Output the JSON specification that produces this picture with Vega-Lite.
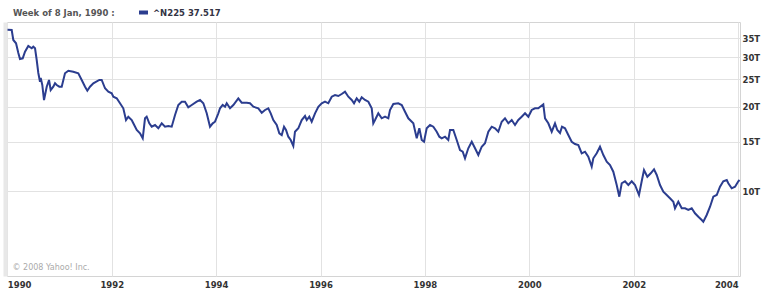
{
  "$schema": "https://vega.github.io/schema/vega-lite/v6.json",
  "autosize": {"type": "none"},
  "width": 733,
  "height": 254,
  "padding": {"left": 7, "top": 22, "right": 30, "bottom": 18},
  "background": "white",
  "config": {"view": {"stroke": "#d4d4d4"}},
  "resolve": {"axis": {"y": "independent"}},
  "layer": [
    {
      "data": {"values": [
        {"t": 1990.004, "v": 37517}, {"t": 1990.084, "v": 37464}, {"t": 1990.115, "v": 34520}, {"t": 1990.167, "v": 33600},
        {"t": 1990.211, "v": 31036}, {"t": 1990.243, "v": 29550}, {"t": 1990.295, "v": 29716}, {"t": 1990.339, "v": 31368},
        {"t": 1990.402, "v": 32864}, {"t": 1990.467, "v": 32252}, {"t": 1990.498, "v": 32676}, {"t": 1990.531, "v": 32252},
        {"t": 1990.563, "v": 29308}, {"t": 1990.594, "v": 26348}, {"t": 1990.626, "v": 24536}, {"t": 1990.640, "v": 25292},
        {"t": 1990.670, "v": 23880}, {"t": 1990.703, "v": 21120}, {"t": 1990.755, "v": 23552}, {"t": 1990.799, "v": 24880},
        {"t": 1990.831, "v": 22924}, {"t": 1990.881, "v": 23552}, {"t": 1990.914, "v": 24216}, {"t": 1990.946, "v": 23880},
        {"t": 1990.996, "v": 23552}, {"t": 1991.042, "v": 23552}, {"t": 1991.105, "v": 26280}, {"t": 1991.169, "v": 26848},
        {"t": 1991.264, "v": 26628}, {"t": 1991.360, "v": 26280}, {"t": 1991.425, "v": 24880}, {"t": 1991.489, "v": 23552},
        {"t": 1991.533, "v": 22792}, {"t": 1991.584, "v": 23552}, {"t": 1991.648, "v": 24216}, {"t": 1991.762, "v": 24880},
        {"t": 1991.808, "v": 24880}, {"t": 1991.872, "v": 23244}, {"t": 1991.935, "v": 22608}, {"t": 1992.000, "v": 22316},
        {"t": 1992.031, "v": 21700}, {"t": 1992.096, "v": 21420}, {"t": 1992.159, "v": 20560}, {"t": 1992.222, "v": 19736},
        {"t": 1992.274, "v": 17932}, {"t": 1992.318, "v": 18424}, {"t": 1992.383, "v": 17932}, {"t": 1992.414, "v": 17452},
        {"t": 1992.479, "v": 16524}, {"t": 1992.542, "v": 16080}, {"t": 1992.594, "v": 15436}, {"t": 1992.638, "v": 18184},
        {"t": 1992.670, "v": 18424}, {"t": 1992.720, "v": 17452}, {"t": 1992.766, "v": 16976}, {"t": 1992.830, "v": 17212},
        {"t": 1992.893, "v": 16756}, {"t": 1992.958, "v": 17452}, {"t": 1993.021, "v": 16976}, {"t": 1993.084, "v": 17072},
        {"t": 1993.149, "v": 16976}, {"t": 1993.213, "v": 18680}, {"t": 1993.276, "v": 20276}, {"t": 1993.341, "v": 20828},
        {"t": 1993.404, "v": 20828}, {"t": 1993.467, "v": 19896}, {"t": 1993.533, "v": 20276}, {"t": 1993.628, "v": 20828},
        {"t": 1993.692, "v": 21120}, {"t": 1993.755, "v": 20560}, {"t": 1993.820, "v": 18944}, {"t": 1993.883, "v": 16976},
        {"t": 1993.935, "v": 17452}, {"t": 1993.979, "v": 17684}, {"t": 1994.042, "v": 18944}, {"t": 1994.075, "v": 19736},
        {"t": 1994.126, "v": 20276}, {"t": 1994.171, "v": 19992}, {"t": 1994.203, "v": 20560}, {"t": 1994.266, "v": 19736},
        {"t": 1994.330, "v": 20276}, {"t": 1994.425, "v": 21420}, {"t": 1994.490, "v": 20660}, {"t": 1994.586, "v": 20660},
        {"t": 1994.649, "v": 20560}, {"t": 1994.713, "v": 19992}, {"t": 1994.808, "v": 19736}, {"t": 1994.874, "v": 19036},
        {"t": 1994.937, "v": 19464}, {"t": 1995.000, "v": 19736}, {"t": 1995.046, "v": 18944}, {"t": 1995.096, "v": 17932},
        {"t": 1995.161, "v": 17212}, {"t": 1995.211, "v": 16080}, {"t": 1995.257, "v": 15860}, {"t": 1995.301, "v": 16976},
        {"t": 1995.339, "v": 16524}, {"t": 1995.383, "v": 15640}, {"t": 1995.429, "v": 15224}, {"t": 1995.479, "v": 14496},
        {"t": 1995.511, "v": 16292}, {"t": 1995.575, "v": 16756}, {"t": 1995.640, "v": 17932}, {"t": 1995.703, "v": 18528},
        {"t": 1995.736, "v": 17932}, {"t": 1995.785, "v": 18424}, {"t": 1995.831, "v": 17684}, {"t": 1995.895, "v": 18944},
        {"t": 1995.958, "v": 19992}, {"t": 1996.023, "v": 20560}, {"t": 1996.086, "v": 20828}, {"t": 1996.149, "v": 20560},
        {"t": 1996.215, "v": 21700}, {"t": 1996.278, "v": 22004}, {"t": 1996.341, "v": 21824}, {"t": 1996.406, "v": 22188},
        {"t": 1996.469, "v": 22608}, {"t": 1996.533, "v": 21700}, {"t": 1996.598, "v": 21120}, {"t": 1996.642, "v": 20560},
        {"t": 1996.693, "v": 21420}, {"t": 1996.743, "v": 20828}, {"t": 1996.789, "v": 21592}, {"t": 1996.852, "v": 21120},
        {"t": 1996.916, "v": 20828}, {"t": 1996.981, "v": 19736}, {"t": 1997.011, "v": 17452}, {"t": 1997.044, "v": 17932},
        {"t": 1997.107, "v": 18944}, {"t": 1997.172, "v": 18184}, {"t": 1997.236, "v": 18424}, {"t": 1997.299, "v": 18184},
        {"t": 1997.331, "v": 19464}, {"t": 1997.395, "v": 20440}, {"t": 1997.490, "v": 20560}, {"t": 1997.556, "v": 20276},
        {"t": 1997.619, "v": 19192}, {"t": 1997.682, "v": 18184}, {"t": 1997.778, "v": 17452}, {"t": 1997.843, "v": 15436},
        {"t": 1997.893, "v": 16756}, {"t": 1997.939, "v": 15224}, {"t": 1997.983, "v": 15012}, {"t": 1998.034, "v": 16756},
        {"t": 1998.098, "v": 17212}, {"t": 1998.161, "v": 16976}, {"t": 1998.226, "v": 16292}, {"t": 1998.276, "v": 15640},
        {"t": 1998.322, "v": 15436}, {"t": 1998.385, "v": 15640}, {"t": 1998.448, "v": 15224}, {"t": 1998.481, "v": 16524},
        {"t": 1998.544, "v": 16524}, {"t": 1998.609, "v": 15224}, {"t": 1998.672, "v": 14028}, {"t": 1998.724, "v": 13832},
        {"t": 1998.768, "v": 13108}, {"t": 1998.831, "v": 14224}, {"t": 1998.897, "v": 15012}, {"t": 1998.960, "v": 14224},
        {"t": 1999.023, "v": 13464}, {"t": 1999.088, "v": 14412}, {"t": 1999.151, "v": 14816}, {"t": 1999.215, "v": 16292},
        {"t": 1999.280, "v": 16976}, {"t": 1999.343, "v": 16756}, {"t": 1999.406, "v": 16292}, {"t": 1999.471, "v": 17684},
        {"t": 1999.534, "v": 18184}, {"t": 1999.598, "v": 17452}, {"t": 1999.663, "v": 17932}, {"t": 1999.726, "v": 17212},
        {"t": 1999.789, "v": 17932}, {"t": 1999.854, "v": 18424}, {"t": 1999.918, "v": 18944}, {"t": 1999.981, "v": 18424},
        {"t": 2000.046, "v": 19464}, {"t": 2000.109, "v": 19736}, {"t": 2000.172, "v": 19736}, {"t": 2000.268, "v": 20392},
        {"t": 2000.301, "v": 18184}, {"t": 2000.364, "v": 17452}, {"t": 2000.429, "v": 16292}, {"t": 2000.492, "v": 17452},
        {"t": 2000.536, "v": 16524}, {"t": 2000.588, "v": 16120}, {"t": 2000.626, "v": 16976}, {"t": 2000.684, "v": 16756},
        {"t": 2000.747, "v": 15860}, {"t": 2000.812, "v": 15012}, {"t": 2000.875, "v": 14732}, {"t": 2000.939, "v": 14612},
        {"t": 2001.004, "v": 13652}, {"t": 2001.067, "v": 13832}, {"t": 2001.130, "v": 13280}, {"t": 2001.195, "v": 12236},
        {"t": 2001.226, "v": 13108}, {"t": 2001.291, "v": 13652}, {"t": 2001.354, "v": 14412}, {"t": 2001.418, "v": 13464},
        {"t": 2001.483, "v": 12744}, {"t": 2001.546, "v": 12408}, {"t": 2001.609, "v": 11744}, {"t": 2001.674, "v": 10532},
        {"t": 2001.724, "v": 9572}, {"t": 2001.770, "v": 10684}, {"t": 2001.833, "v": 10856}, {"t": 2001.897, "v": 10532},
        {"t": 2001.962, "v": 10856}, {"t": 2002.025, "v": 10532}, {"t": 2002.101, "v": 9704}, {"t": 2002.153, "v": 10856},
        {"t": 2002.197, "v": 11908}, {"t": 2002.261, "v": 11272}, {"t": 2002.326, "v": 11592}, {"t": 2002.389, "v": 11976},
        {"t": 2002.441, "v": 11432}, {"t": 2002.504, "v": 10532}, {"t": 2002.567, "v": 9972}, {"t": 2002.632, "v": 9704},
        {"t": 2002.695, "v": 9448}, {"t": 2002.759, "v": 9188}, {"t": 2002.791, "v": 8704}, {"t": 2002.854, "v": 9188},
        {"t": 2002.920, "v": 8704}, {"t": 2002.983, "v": 8704}, {"t": 2003.046, "v": 8584}, {"t": 2003.111, "v": 8704},
        {"t": 2003.174, "v": 8356}, {"t": 2003.238, "v": 8124}, {"t": 2003.303, "v": 7908}, {"t": 2003.333, "v": 7800},
        {"t": 2003.398, "v": 8240}, {"t": 2003.462, "v": 8816}, {"t": 2003.525, "v": 9572}, {"t": 2003.590, "v": 9704},
        {"t": 2003.653, "v": 10384}, {"t": 2003.716, "v": 10856}, {"t": 2003.782, "v": 10972}, {"t": 2003.812, "v": 10684},
        {"t": 2003.877, "v": 10252}, {"t": 2003.941, "v": 10384}, {"t": 2004.004, "v": 10856}, {"t": 2004.027, "v": 10972}
      ]},
      "mark": {"type": "line", "strokeWidth": 2, "interpolate": "linear"},
      "encoding": {
        "x": {"field": "t", "type": "quantitative",
          "scale": {"domain": [1989.994, 2004.036], "nice": false, "zero": false},
          "axis": {"orient": "bottom", "values": [1990, 1992, 1994, 1996, 1998, 2000, 2002, 2004], "format": "d", "title": null,
            "grid": true, "gridColor": "#e2e2e2", "ticks": false, "domain": false, "labelFlush": 12,
            "labelFont": "DejaVu Sans", "labelFontSize": 8.5, "labelFontWeight": "bold", "labelColor": "#333333", "labelPadding": 4, "labelBaseline": "top"}},
        "y": {"field": "v", "type": "quantitative",
          "scale": {"type": "log", "domain": [5000, 40000], "nice": false},
          "axis": {"orient": "right", "values": [10000, 15000, 20000, 25000, 30000, 35000], "labelExpr": "(datum.value/1000) + 'T'", "title": null,
            "grid": true, "gridColor": "#e2e2e2", "ticks": false, "domain": false,
            "labelFont": "DejaVu Sans", "labelFontSize": 8.5, "labelFontWeight": "bold", "labelColor": "#333333", "labelPadding": 2, "labelBaseline": "middle", "labelAlign": "left"}},
        "color": {"datum": "^N225 37.517", "type": "nominal",
          "scale": {"range": ["#2b3d8f"]},
          "legend": {"orient": "none", "legendX": 6, "legendY": -16, "padding": 0,
            "title": "Week of 8 Jan, 1990 :", "titleOrient": "left", "titlePadding": 22, "titleBaseline": "middle",
            "titleFont": "DejaVu Sans", "titleFontSize": 8.5, "titleFontWeight": "bold", "titleColor": "#555555",
            "symbolType": "stroke", "symbolSize": 81, "symbolStrokeWidth": 4,
            "labelFont": "DejaVu Sans", "labelFontSize": 8.5, "labelFontWeight": "bold", "labelColor": "#333344", "labelOffset": 3}}
      }
    },
    {
      "data": {"values": [{"note": "© 2008 Yahoo! Inc."}]},
      "mark": {"type": "text", "align": "left", "baseline": "middle", "font": "DejaVu Sans", "fontSize": 8, "color": "#aaaaaa"},
      "encoding": {
        "x": {"datum": 1990.1, "type": "quantitative"},
        "y": {"datum": 5340, "type": "quantitative",
          "axis": {"orient": "left", "labels": false, "ticks": false, "grid": false, "title": null, "domain": true, "domainColor": "#e8e8e8", "domainWidth": 4, "offset": 2}},
        "text": {"field": "note"}
      }
    }
  ]
}
